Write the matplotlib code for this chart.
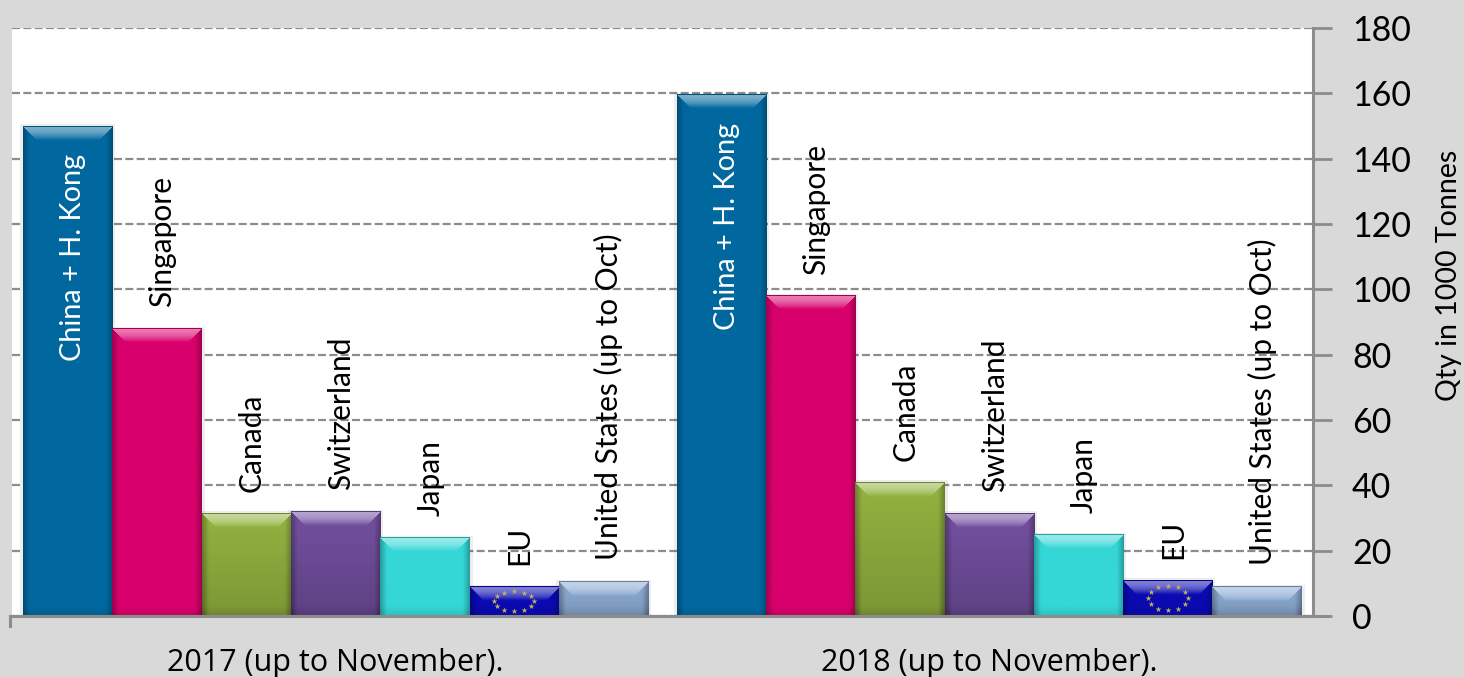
import matplotlib
matplotlib.use('Agg')
import numpy as np
import matplotlib.pyplot as plt
from matplotlib.colors import to_rgb

periods = ['2017 (up to November).', '2018 (up to November).']
countries = ['China + H. Kong', 'Singapore', 'Canada', 'Switzerland', 'Japan', 'EU', 'United States (up to Oct)']
values_2017 = [150, 88, 31.5, 32, 24, 9, 10.5]
values_2018 = [159.5, 98, 41, 31.5, 25, 11, 9]
bar_colors = ['#00689f', '#d8006c', '#93b340', '#7350a0', '#35d6d6', '#0a0ab0', '#8cabd2']
bar_fade = [0.0, 0.0, 0.16, 0.18, 0.0, 0.0, 0.12]
yticks = [0, 20, 40, 60, 80, 100, 120, 140, 160, 180]

plt.rcParams['font.family'] = ['Lato', 'DejaVu Sans']

BG = '#d9d9d9'
GREY = '#8c8c8c'
W, H = 1464, 677
X0, X1, Y0, Y1 = 12, 1313, 616, 28   # plot area in pixels
SLOT = 89.3
GROUP_STEP = 7.32


def bevel(ax, left, right, top, color, fade):
    # shaded image laid over a flat bar: light top strip, darker sides and foot
    px_w = int((right - left) * SLOT)
    px_h = max(int(top * (Y0 - Y1) / 180.0), 1)
    yy, xx = np.mgrid[0:px_h, 0:px_w]
    dx = np.minimum(xx + 0.5, px_w - xx - 0.5)
    dy_top = yy + 0.5
    dy_bot = px_h - yy - 0.5
    rgb = np.array(to_rgb(color))
    shade = 1 - fade * yy / px_h
    shade = shade - 0.28 * np.clip(1 - dx / 7.0, 0, 1)
    shade = shade - 0.10 * np.clip(1 - dy_bot / 10.0, 0, 1)
    img = rgb * shade[..., None]
    band = 14.0
    in_top = (dy_top < band) & (dy_top < dx + 1)
    light = rgb + (1 - rgb) * 0.48
    t = (np.clip(dy_top / band, 0, 1) ** 2)[..., None]
    top_col = light * (1 - t) + rgb * t
    img[in_top] = top_col[in_top]
    img[dy_top < 1.5] = rgb * 0.75
    ax.imshow(np.clip(img, 0, 1), extent=(left, right, 0, top), aspect='auto', origin='upper',
              interpolation='bilinear', zorder=3)


def eu_stars(ax, center, top):
    # ring of 12 stars centred in the EU bar
    angles = np.linspace(0, 2 * np.pi, 12, endpoint=False)
    ax.scatter(center + 0.224 * np.cos(angles), top * 0.5 + top * 0.34 * np.sin(angles),
               s=20, marker='*', color='#bfb060', linewidths=0, zorder=4)


fig = plt.figure(figsize=(W / 100, H / 100), dpi=100, facecolor=BG)
ax = fig.add_axes([X0 / W, 1 - Y0 / H, (X1 - X0) / W, (Y0 - Y1) / H], facecolor='white')

ax.yaxis.tick_right()
ax.set_yticks(yticks)
ax.set_xticks([])
ax.tick_params(axis='y', length=14, width=2, color=GREY, labelsize=24.5, pad=14, labelcolor='black')
ax.yaxis.grid(True, color=GREY, linestyle=(0, (3.6, 1.5)), linewidth=1.6, zorder=1)
ax.set_axisbelow(True)
for s in ['top', 'left']:
    ax.spines[s].set_visible(False)
ax.spines['right'].set_color(GREY)
ax.spines['right'].set_linewidth(2.2)
ax.spines['bottom'].set_color(GREY)
ax.spines['bottom'].set_linewidth(2.2)

for g, vals in enumerate([values_2017, values_2018]):
    for i, v in enumerate(vals):
        x = g * GROUP_STEP + i
        # soft halo round the bar
        ax.bar(x + 0.5, v + 0.5, width=1 + 6 / SLOT, color='black', alpha=0.07, zorder=2)
        ax.bar(x + 0.5, v, width=1.0, color=bar_colors[i], zorder=2)
        bevel(ax, x, x + 1, v, bar_colors[i], bar_fade[i])
        if countries[i] == 'EU':
            eu_stars(ax, x + 0.5, v)
        if i == 0:
            ax.text(x + 0.56, v - 8.5, countries[i], rotation=90, ha='center', va='top',
                    fontsize=20.8, color='white', zorder=5)
        else:
            ax.text(x + 0.56, v + 6.5, countries[i], rotation=90, ha='center', va='bottom',
                    fontsize=21.5, color='black', zorder=5)
    ax.text(g * GROUP_STEP + 3.5, -0.08, periods[g], transform=ax.get_xaxis_transform(),
            ha='center', va='center', fontsize=22, family=['Open Sans', 'DejaVu Sans'],
            color='black', clip_on=False)

ax.set_xlim(-11 / SLOT, (X1 - 23) / SLOT)
ax.set_ylim(0, 180)

# small tick at the left end of the baseline and stub past the right spine
ax.plot([-13 / SLOT, -13 / SLOT], [0, -3], color=GREY, linewidth=2.2, clip_on=False, zorder=6)
ax.plot([-13 / SLOT, (X1 + 14 - 23) / SLOT], [0, 0], color=GREY, linewidth=2.2, clip_on=False, zorder=6)

fig.text(1449 / W, 1 - 275 / H, 'Qty in 1000 Tonnes', rotation=90, ha='center', va='center',
         fontsize=20.5, color='black')

plt.savefig('out.png', dpi=100, facecolor=BG)
plt.close()
